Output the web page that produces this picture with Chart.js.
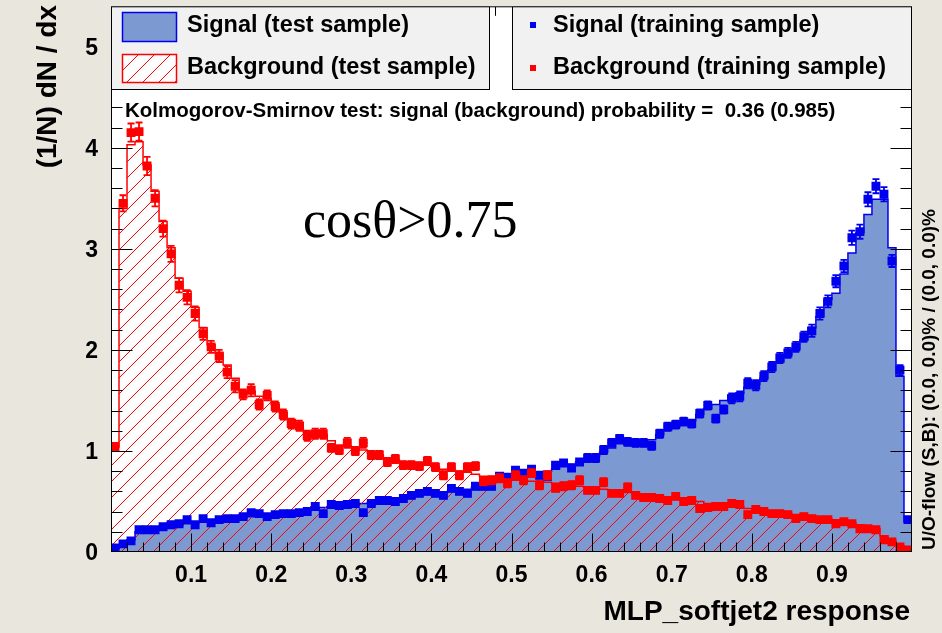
<!DOCTYPE html>
<html>
<head>
<meta charset="utf-8">
<script src="https://cdn.jsdelivr.net/npm/chart.js@4/dist/chart.umd.min.js"></script>
<style>
  html, body { margin: 0; padding: 0; background: #e8e6dd; }
  canvas { display: block; }
</style>
</head>
<body>
<canvas id="c" width="942" height="633"></canvas>
<script>
// Histogram binning of the MVA response
const nBins = 100;
const xLow = 0;
const xHigh = 1;

// Signal, test sample (filled histogram)
const sigTest = [
  0.03, 0.07, 0.12, 0.20, 0.22, 0.23, 0.24, 0.25, 0.27, 0.28, 0.29, 0.30, 0.30, 0.31, 0.32, 0.33, 0.34, 0.35, 0.36, 0.36, 0.37, 0.38, 0.39, 0.40, 0.41,
  0.43, 0.44, 0.45, 0.46, 0.46, 0.47, 0.48, 0.49, 0.50, 0.51, 0.52, 0.53, 0.55, 0.56, 0.57, 0.58, 0.59, 0.60, 0.61, 0.62, 0.64, 0.66, 0.68, 0.70, 0.72,
  0.74, 0.76, 0.77, 0.78, 0.80, 0.82, 0.85, 0.87, 0.89, 0.92, 0.95, 0.99, 1.03, 1.07, 1.09, 1.10, 1.10, 1.11, 1.16, 1.21, 1.24, 1.27, 1.30, 1.36, 1.42,
  1.46, 1.50, 1.55, 1.57, 1.63, 1.66, 1.72, 1.80, 1.88, 1.95, 2.01, 2.10, 2.22, 2.33, 2.50, 2.56, 2.75, 2.96, 3.16, 3.34, 3.49, 3.49, 3.01, 1.74, 0.30
];

// Background, test sample (hatched histogram)
const bkgTest = [
  1.04, 3.40, 4.03, 4.06, 3.83, 3.57, 3.27, 3.01, 2.71, 2.58, 2.42, 2.22, 2.05, 1.97, 1.85, 1.72, 1.59, 1.59, 1.54, 1.52, 1.46, 1.38, 1.31, 1.28, 1.19,
  1.18, 1.16, 1.10, 1.06, 1.05, 1.03, 1.01, 0.98, 0.96, 0.93, 0.91, 0.89, 0.88, 0.87, 0.86, 0.84, 0.82, 0.81, 0.80, 0.79, 0.77, 0.75, 0.74, 0.73, 0.72,
  0.71, 0.71, 0.70, 0.70, 0.69, 0.68, 0.67, 0.66, 0.65, 0.64, 0.63, 0.62, 0.61, 0.60, 0.59, 0.58, 0.57, 0.56, 0.55, 0.54, 0.53, 0.52, 0.51, 0.50, 0.48,
  0.47, 0.46, 0.46, 0.45, 0.43, 0.42, 0.41, 0.40, 0.39, 0.38, 0.37, 0.36, 0.35, 0.34, 0.33, 0.32, 0.31, 0.29, 0.27, 0.25, 0.23, 0.16, 0.11, 0.06, 0.03
];

// Signal, training sample (markers) and its uncertainties
const sigTrain = [
  0.04, 0.08, 0.11, 0.22, 0.22, 0.22, 0.25, 0.27, 0.28, 0.32, 0.27, 0.33, 0.29, 0.32, 0.33, 0.33, 0.35, 0.39, 0.38, 0.35, 0.37, 0.38, 0.38, 0.39, 0.40,
  0.45, 0.38, 0.47, 0.46, 0.47, 0.48, 0.39, 0.48, 0.51, 0.51, 0.50, 0.53, 0.56, 0.58, 0.60, 0.58, 0.56, 0.63, 0.60, 0.58, 0.65, 0.65, 0.65, 0.75, 0.74,
  0.81, 0.78, 0.82, 0.76, 0.75, 0.86, 0.88, 0.83, 0.89, 0.93, 0.93, 1.01, 1.08, 1.12, 1.09, 1.08, 1.08, 1.05, 1.17, 1.24, 1.26, 1.29, 1.27, 1.37, 1.45,
  1.32, 1.41, 1.52, 1.54, 1.67, 1.65, 1.74, 1.83, 1.92, 1.97, 2.03, 2.13, 2.19, 2.36, 2.48, 2.68, 2.83, 3.11, 3.17, 3.49, 3.62, 3.54, 2.88, 1.80, 0.32
];
const sigTrainErr = [
  0.01, 0.01, 0.01, 0.02, 0.02, 0.02, 0.02, 0.02, 0.02, 0.02, 0.02, 0.02, 0.02, 0.02, 0.02, 0.02, 0.02, 0.02, 0.02, 0.02, 0.02, 0.02, 0.02, 0.02, 0.02,
  0.02, 0.02, 0.03, 0.03, 0.03, 0.03, 0.02, 0.03, 0.03, 0.03, 0.03, 0.03, 0.03, 0.03, 0.03, 0.03, 0.03, 0.03, 0.03, 0.03, 0.03, 0.03, 0.03, 0.03, 0.03,
  0.03, 0.03, 0.03, 0.03, 0.03, 0.03, 0.03, 0.03, 0.03, 0.04, 0.04, 0.04, 0.04, 0.04, 0.04, 0.04, 0.04, 0.04, 0.04, 0.04, 0.04, 0.04, 0.04, 0.04, 0.04,
  0.04, 0.04, 0.05, 0.05, 0.05, 0.05, 0.05, 0.05, 0.05, 0.05, 0.05, 0.05, 0.06, 0.06, 0.06, 0.06, 0.06, 0.07, 0.07, 0.07, 0.07, 0.07, 0.06, 0.05, 0.02
];

// Background, training sample (markers) and its uncertainties
const bkgTrain = [
  1.04, 3.45, 4.15, 4.16, 3.82, 3.50, 3.20, 2.95, 2.64, 2.52, 2.36, 2.16, 2.03, 1.94, 1.78, 1.64, 1.56, 1.60, 1.46, 1.55, 1.44, 1.36, 1.27, 1.25, 1.15,
  1.17, 1.17, 1.03, 1.01, 1.08, 1.00, 1.08, 0.96, 0.96, 0.89, 0.92, 0.86, 0.86, 0.85, 0.90, 0.84, 0.76, 0.84, 0.76, 0.84, 0.85, 0.70, 0.71, 0.73, 0.68,
  0.76, 0.71, 0.78, 0.66, 0.76, 0.63, 0.65, 0.66, 0.71, 0.61, 0.61, 0.69, 0.58, 0.58, 0.64, 0.56, 0.54, 0.54, 0.53, 0.51, 0.55, 0.50, 0.51, 0.43, 0.44,
  0.45, 0.45, 0.48, 0.47, 0.37, 0.42, 0.40, 0.38, 0.38, 0.37, 0.33, 0.35, 0.33, 0.32, 0.32, 0.28, 0.30, 0.28, 0.23, 0.23, 0.22, 0.12, 0.10, 0.05, 0.02
];
const bkgTrainErr = [
  0.04, 0.08, 0.09, 0.09, 0.09, 0.08, 0.08, 0.08, 0.07, 0.07, 0.07, 0.06, 0.06, 0.06, 0.06, 0.06, 0.05, 0.06, 0.05, 0.05, 0.05, 0.05, 0.05, 0.05, 0.05,
  0.05, 0.05, 0.04, 0.04, 0.05, 0.04, 0.05, 0.04, 0.04, 0.04, 0.04, 0.04, 0.04, 0.04, 0.04, 0.04, 0.04, 0.04, 0.04, 0.04, 0.04, 0.04, 0.04, 0.04, 0.04,
  0.04, 0.04, 0.04, 0.04, 0.04, 0.03, 0.04, 0.04, 0.04, 0.03, 0.03, 0.04, 0.03, 0.03, 0.04, 0.03, 0.03, 0.03, 0.03, 0.03, 0.03, 0.03, 0.03, 0.03, 0.03,
  0.03, 0.03, 0.03, 0.03, 0.03, 0.03, 0.03, 0.03, 0.03, 0.03, 0.03, 0.03, 0.03, 0.02, 0.02, 0.02, 0.02, 0.02, 0.02, 0.02, 0.02, 0.02, 0.01, 0.01, 0.01
];

// Axis ticks and labels
const xTickValues = [0.1, 0.2, 0.3, 0.4, 0.5, 0.6, 0.7, 0.8, 0.9];
const xTickLabels = ['0.1', '0.2', '0.3', '0.4', '0.5', '0.6', '0.7', '0.8', '0.9'];
const yTickValues = [0, 1, 2, 3, 4, 5];
const yTickLabels = ['0', '1', '2', '3', '4', '5'];
const yMax = 5.4;

// Texts
const xTitle = 'MLP_softjet2 response';
const yTitle = '(1/N) dN / dx';
const legendTest = ['Signal (test sample)', 'Background (test sample)'];
const legendTrain = ['Signal (training sample)', 'Background (training sample)'];
const ksText = 'Kolmogorov-Smirnov test: signal (background) probability =  0.36 (0.985)';
const cutText = 'cos\u03B8>0.75';
const flowText = 'U/O-flow (S,B): (0.0, 0.0)% / (0.0, 0.0)%';

// Colours
const sigLine = '#0000ee';
const sigFill = '#7d99d1';
const bkgLine = '#ff0000';

const binW = (xHigh - xLow) / nBins;
const FONT = '"Liberation Sans", Arial, Helvetica, sans-serif';
const HATCH_STEP = 16;

// "/" hatch lines (x + y = const) laid down pixel by pixel; caller sets the clip
function fillHatch(ctx, x0, y0, x1, y1) {
  x0 = Math.floor(x0); y0 = Math.floor(y0); x1 = Math.ceil(x1); y1 = Math.ceil(y1);
  ctx.save();
  ctx.fillStyle = bkgLine;
  ctx.beginPath();
  const kStart = Math.floor((x0 + y0) / HATCH_STEP) * HATCH_STEP;
  for (let k = kStart; k <= x1 + y1; k += HATCH_STEP) {
    for (let y = y0; y < y1; y++) {
      const x = k - y;
      if (x < x0 - 1 || x > x1) continue;
      ctx.rect(x, y, 1, 1);
    }
  }
  ctx.fill();
  ctx.restore();
}

// Step outline points: rise from zero at the low edge, fall back at the high edge
function histPoints(vals) {
  const pts = [{ x: xLow, y: 0 }];
  vals.forEach((v, i) => pts.push({ x: xLow + i * binW, y: v }));
  pts.push({ x: xHigh, y: vals[vals.length - 1] });
  pts.push({ x: xHigh, y: 0 });
  return pts;
}
function markerPoints(vals) {
  return vals.map((v, i) => ({ x: xLow + (i + 0.5) * binW, y: v }));
}

// Hatched area under the background histogram, drawn before its outline
const hatchFill = {
  id: 'hatchFill',
  beforeDatasetDraw(chart, args) {
    const ds = chart.data.datasets[args.index];
    if (!ds.hatchValues) return;
    const xs = chart.scales.x, ys = chart.scales.y, ctx = chart.ctx;
    const a = chart.chartArea;
    const vals = ds.hatchValues;
    ctx.save();
    ctx.beginPath();
    ctx.rect(a.left, a.top, a.right - a.left, a.bottom - a.top);
    ctx.clip();
    ctx.beginPath();
    ctx.moveTo(xs.getPixelForValue(xLow), ys.getPixelForValue(0));
    vals.forEach((v, i) => {
      ctx.lineTo(xs.getPixelForValue(xLow + i * binW), ys.getPixelForValue(v));
      ctx.lineTo(xs.getPixelForValue(xLow + (i + 1) * binW), ys.getPixelForValue(v));
    });
    ctx.lineTo(xs.getPixelForValue(xHigh), ys.getPixelForValue(0));
    ctx.closePath();
    ctx.clip();
    fillHatch(ctx, a.left, a.top, a.right, a.bottom);
    ctx.restore();
  }
};

// Error bars (vertical with caps) and bin-width bars for the training markers
const errorBars = {
  id: 'errorBars',
  afterDatasetDraw(chart, args) {
    const ds = chart.data.datasets[args.index];
    if (!ds.errors) return;
    const xs = chart.scales.x, ys = chart.scales.y, ctx = chart.ctx;
    const a = chart.chartArea;
    ctx.save();
    ctx.beginPath();
    ctx.rect(a.left, a.top, a.right - a.left, a.bottom - a.top);
    ctx.clip();
    ctx.strokeStyle = ds.backgroundColor;
    ctx.lineWidth = 1.8;
    ds.data.forEach((p, i) => {
      const e = ds.errors[i];
      const px = xs.getPixelForValue(p.x);
      const x0 = xs.getPixelForValue(p.x - binW / 2);
      const x1 = xs.getPixelForValue(p.x + binW / 2);
      const yc = ys.getPixelForValue(p.y);
      const yt = ys.getPixelForValue(p.y + e);
      const yb = ys.getPixelForValue(p.y - e);
      ctx.beginPath();
      ctx.moveTo(x0, yc); ctx.lineTo(x1, yc);
      ctx.moveTo(px, yt); ctx.lineTo(px, yb);
      ctx.moveTo(px - 3.5, yt); ctx.lineTo(px + 3.5, yt);
      ctx.moveTo(px - 3.5, yb); ctx.lineTo(px + 3.5, yb);
      ctx.stroke();
    });
    ctx.restore();
  }
};

// White frame background
const frameFill = {
  id: 'frameFill',
  beforeDatasetsDraw(chart) {
    const a = chart.chartArea, ctx = chart.ctx;
    ctx.save();
    ctx.fillStyle = '#ffffff';
    ctx.fillRect(a.left, a.top, a.right - a.left, a.bottom - a.top);
    ctx.restore();
  }
};

// Frame, inward ticks on all four sides, labels, titles, legends and notes
const decorations = {
  id: 'decorations',
  afterDatasetsDraw(chart) {
    const a = chart.chartArea, ctx = chart.ctx;
    const xs = chart.scales.x, ys = chart.scales.y;
    ctx.save();
    ctx.strokeStyle = '#000';
    ctx.lineWidth = 1;
    const L = a.left + 0.5, R = a.right - 0.5, T = a.top + 0.5, B = a.bottom - 0.5;

    ctx.beginPath();
    // x ticks: minor every 0.02, major every 0.1
    for (let k = 1; k < 50; k++) {
      const v = k * 0.02;
      const major = k % 5 === 0;
      const px = Math.round(xs.getPixelForValue(v)) + 0.5;
      const len = major ? 18 : 9;
      ctx.moveTo(px, B); ctx.lineTo(px, B - len);
      ctx.moveTo(px, T); ctx.lineTo(px, T + len);
    }
    // y ticks: minor every 0.2, major every 1
    for (let k = 1; k * 0.2 < yMax; k++) {
      const v = k * 0.2;
      const major = k % 5 === 0;
      const py = Math.round(ys.getPixelForValue(v)) + 0.5;
      const len = major ? 21 : 11;
      ctx.moveTo(L, py); ctx.lineTo(L + len, py);
      ctx.moveTo(R, py); ctx.lineTo(R - len, py);
    }
    ctx.stroke();
    ctx.strokeRect(L, T, R - L, B - T);

    // legend boxes
    const drawBox = (x0, y0, x1, y1) => {
      ctx.fillStyle = '#f1f1f1';
      ctx.fillRect(x0, y0, x1 - x0, y1 - y0);
      ctx.strokeStyle = '#000';
      ctx.lineWidth = 1;
      ctx.strokeRect(x0 + 0.5, y0 + 0.5, x1 - x0 - 1, y1 - y0 - 1);
    };
    drawBox(a.left, a.top, 490, 90);
    drawBox(512, a.top, a.right, 90);

    // test-sample swatches
    ctx.fillStyle = sigFill;
    ctx.fillRect(122, 12, 55, 30);
    ctx.strokeStyle = sigLine; ctx.lineWidth = 1.5;
    ctx.strokeRect(122.5, 12.5, 54, 29);
    ctx.fillStyle = '#ffffff';
    ctx.fillRect(122, 54, 55, 29);
    ctx.save();
    ctx.beginPath();
    ctx.rect(122, 54, 55, 29);
    ctx.clip();
    fillHatch(ctx, 122, 54, 177, 83);
    ctx.restore();
    ctx.strokeStyle = bkgLine; ctx.lineWidth = 1.5;
    ctx.strokeRect(122.5, 54.5, 54, 28);

    // training-sample markers
    ctx.fillStyle = sigLine;
    ctx.fillRect(530, 22, 6, 6);
    ctx.fillStyle = bkgLine;
    ctx.fillRect(530, 65, 6, 6);

    ctx.fillStyle = '#000';
    ctx.font = 'bold 23.5px ' + FONT;
    ctx.textAlign = 'left';
    ctx.textBaseline = 'alphabetic';
    ctx.fillText(legendTest[0], 187, 32);
    ctx.fillText(legendTest[1], 187, 74);
    ctx.fillText(legendTrain[0], 553, 32);
    ctx.fillText(legendTrain[1], 553, 74);

    // KS probability note
    ctx.font = 'bold 20.5px ' + FONT;
    ctx.fillText(ksText, 125, 117);

    // selection label
    ctx.font = '52px "Liberation Serif", "DejaVu Serif", serif';
    ctx.fillText(cutText, 303, 237);

    // tick labels
    ctx.font = 'bold 23px ' + FONT;
    ctx.textAlign = 'center';
    xTickValues.forEach((v, i) => {
      ctx.fillText(xTickLabels[i], xs.getPixelForValue(v), 582);
    });
    ctx.textAlign = 'right';
    ctx.textBaseline = 'middle';
    yTickValues.forEach((v, i) => {
      ctx.fillText(yTickLabels[i], 98, ys.getPixelForValue(v) + 2);
    });

    // axis titles
    ctx.font = 'bold 28px ' + FONT;
    ctx.textBaseline = 'alphabetic';
    ctx.textAlign = 'right';
    ctx.fillText(xTitle, 910, 620);

    ctx.save();
    ctx.translate(56, 5);
    ctx.rotate(-Math.PI / 2);
    ctx.textAlign = 'right';
    ctx.fillText(yTitle, 0, 0);
    ctx.restore();

    // under/overflow note
    ctx.save();
    ctx.font = 'bold 19px ' + FONT;
    ctx.translate(935, 550);
    ctx.rotate(-Math.PI / 2);
    ctx.textAlign = 'left';
    ctx.fillText(flowText, 0, 0);
    ctx.restore();

    ctx.restore();
  }
};

new Chart(document.getElementById('c'), {
  type: 'line',
  data: {
    datasets: [
      {
        label: legendTest[0],
        data: histPoints(sigTest),
        stepped: true,
        borderColor: sigLine,
        borderWidth: 1.5,
        backgroundColor: sigFill,
        fill: 'origin',
        pointRadius: 0,
        order: 4
      },
      {
        label: legendTest[1],
        data: histPoints(bkgTest),
        hatchValues: bkgTest,
        stepped: true,
        borderColor: bkgLine,
        borderWidth: 1.5,
        fill: false,
        pointRadius: 0,
        order: 3
      },
      {
        type: 'scatter',
        label: legendTrain[0],
        data: markerPoints(sigTrain),
        errors: sigTrainErr,
        showLine: false,
        pointStyle: 'rect',
        pointRadius: 6.3,
        borderWidth: 0,
        backgroundColor: sigLine,
        order: 2
      },
      {
        type: 'scatter',
        label: legendTrain[1],
        data: markerPoints(bkgTrain),
        errors: bkgTrainErr,
        showLine: false,
        pointStyle: 'rect',
        pointRadius: 6.3,
        borderWidth: 0,
        backgroundColor: bkgLine,
        order: 1
      }
    ]
  },
  options: {
    responsive: false,
    animation: false,
    devicePixelRatio: 1,
    layout: { padding: { left: 111, right: 30, top: 6, bottom: 81 } },
    scales: {
      x: { type: 'linear', min: xLow, max: xHigh, display: false },
      y: { type: 'linear', min: 0, max: yMax, display: false }
    },
    plugins: {
      legend: { display: false },
      tooltip: { enabled: false }
    }
  },
  plugins: [frameFill, hatchFill, errorBars, decorations]
});
</script>
</body>
</html>
